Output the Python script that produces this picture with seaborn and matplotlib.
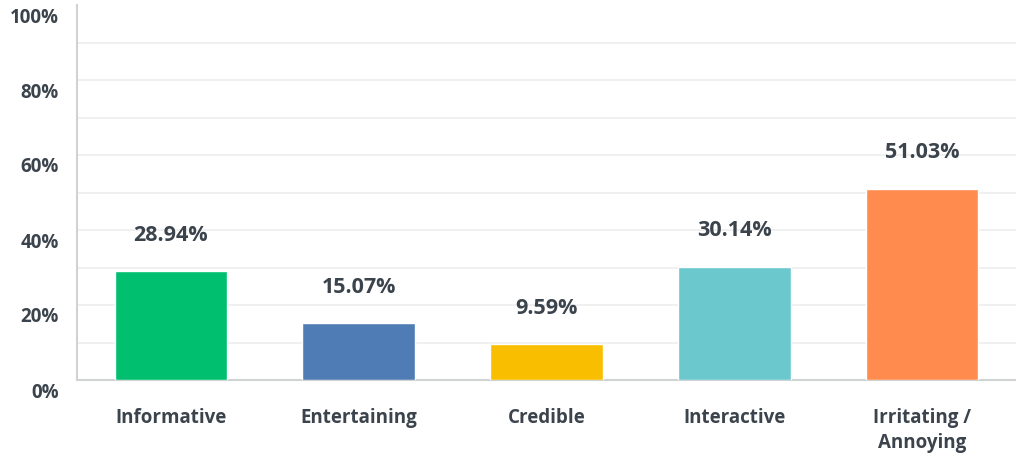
import matplotlib
matplotlib.use("Agg")
import matplotlib.pyplot as plt
import matplotlib.transforms as mtransforms
import seaborn as sns
import pandas as pd

categories = ["Informative", "Entertaining", "Credible", "Interactive", "Irritating /\nAnnoying"]
values = [28.94, 15.07, 9.59, 30.14, 51.03]
colors = ["#00BF6F", "#507CB6", "#F9BE00", "#6BC8CD", "#FF8B4F"]
y_ticks = [0, 20, 40, 60, 80, 100]
y_tick_labels = ["0%", "20%", "40%", "60%", "80%", "100%"]

text_color = "#3B434C"
grid_color = "#EDEEEE"
spine_color = "#D0D2D3"

sns.set_theme(style="white")
plt.rcParams["font.family"] = ["Open Sans", "DejaVu Sans"]

df = pd.DataFrame({"category": categories, "value": values})

fig = plt.figure(figsize=(10.16, 4.55), dpi=100)
ax = fig.add_axes([77 / 1016, 75 / 455, 1 - 77 / 1016, 375 / 455])

sns.barplot(data=df, x="category", y="value", hue="category",
            palette=colors, width=0.6, legend=False, ax=ax,
            saturation=1, zorder=3)

ax.set_xlim(-0.5, len(categories) - 0.5)
ax.set_ylim(0, 100)
ax.set_yticks(y_ticks)
ax.set_yticklabels(y_tick_labels)
ax.set_yticks(range(10, 100, 20), minor=True)
ax.set_xlabel("")
ax.set_ylabel("")

ax.grid(True, axis="y", which="both", color=grid_color, linewidth=1.2, zorder=0)
ax.set_axisbelow(True)
ax.yaxis.get_gridlines()[-1].set_visible(False)

for side in ["top", "right"]:
    ax.spines[side].set_visible(False)
for side in ["left", "bottom"]:
    ax.spines[side].set_color(spine_color)
    ax.spines[side].set_linewidth(1.5)

ax.tick_params(axis="both", which="both", length=0)
ax.tick_params(axis="y", pad=13, labelsize=13.5, labelcolor=text_color)
ax.tick_params(axis="x", pad=20, labelsize=13.5, labelcolor=text_color)
for lbl in ax.get_yticklabels():
    lbl.set_fontweight("bold")
    lbl.set_transform(lbl.get_transform() + mtransforms.ScaledTranslation(0, -10 / 100, fig.dpi_scale_trans))
for lbl in ax.get_xticklabels():
    lbl.set_fontweight("bold")
    lbl.set_linespacing(1.35)
    lbl.set_verticalalignment("top")

for i, v in enumerate(values):
    ax.annotate(f"{v:.2f}%", xy=(i, v), xytext=(0, 36), textcoords="offset pixels",
                ha="center", va="center", fontsize=15.5, fontweight="bold",
                color=text_color)

fig.savefig("out.png", dpi=100, facecolor="white")
